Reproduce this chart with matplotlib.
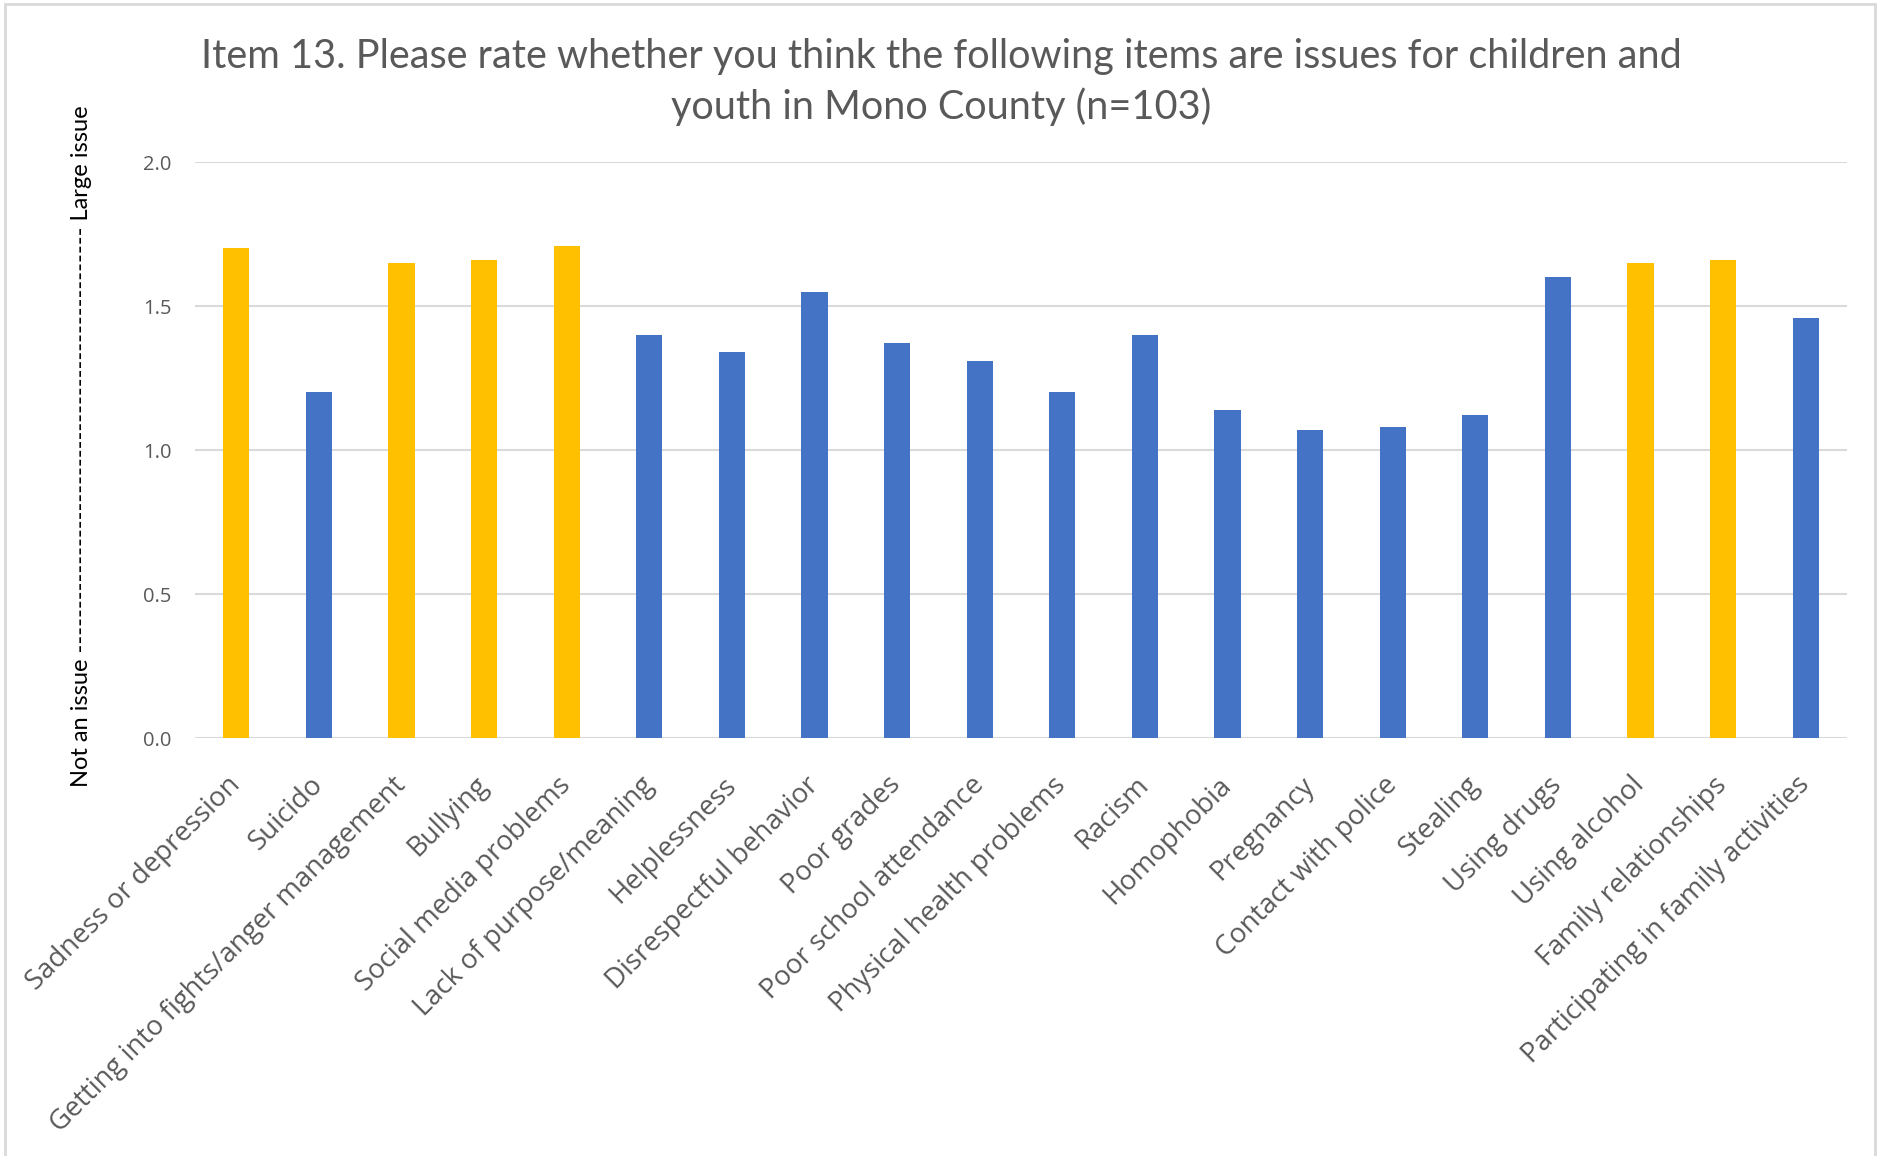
import matplotlib
matplotlib.use("Agg")
import matplotlib.pyplot as plt
from matplotlib.patches import Rectangle

plt.rcParams['font.family'] = ['Lato', 'DejaVu Sans']

categories = [
    "Sadness or depression", "Suicido", "Getting into fights/anger management",
    "Bullying", "Social media problems", "Lack of purpose/meaning",
    "Helplessness", "Disrespectful behavior", "Poor grades",
    "Poor school attendance", "Physical health problems", "Racism",
    "Homophobia", "Pregnancy", "Contact with police", "Stealing",
    "Using drugs", "Using alcohol", "Family relationships",
    "Participating in family activities",
]
values = [1.70, 1.20, 1.65, 1.66, 1.71, 1.40, 1.34, 1.55, 1.37, 1.31,
          1.20, 1.40, 1.14, 1.07, 1.08, 1.12, 1.60, 1.65, 1.66, 1.46]
highlight = [1, 0, 1, 1, 1, 0, 0, 0, 0, 0,
             0, 0, 0, 0, 0, 0, 0, 1, 1, 0]
yticks = [0.0, 0.5, 1.0, 1.5, 2.0]
title_text = ("Item 13. Please rate whether you think the following items are issues for children and\n"
              "youth in Mono County (n=103)")
ylabel_text = "Not an issue " + "-" * 48 + " Large issue"

YELLOW = "#FFC000"
BLUE = "#4472C4"
GRID = "#D9D9D9"
TEXT = "#595959"
LABEL_FONT = ['Open Sans', 'DejaVu Sans']

W, H = 1881, 1156
fig = plt.figure(figsize=(W / 100, H / 100), dpi=100)

# chart-area border
fig.patches.append(Rectangle((5 / W, -0.01), (1875 - 5) / W, 1 - 4 / H + 0.01,
                             transform=fig.transFigure, fill=False,
                             edgecolor=GRID, linewidth=2))

left, right, top, bottom = 195, 1847, 162, 738
ax = fig.add_axes([left / W, 1 - bottom / H, (right - left) / W, (bottom - top) / H])

x = list(range(len(categories)))
colors = [YELLOW if h else BLUE for h in highlight]
ax.bar(x, values, width=0.315, color=colors, zorder=3)

ax.set_xlim(-0.5, len(categories) - 0.5)
ax.set_ylim(0, 2.0)
ax.set_yticks(yticks)
ax.set_yticklabels([f"{v:.1f}" for v in yticks], family=LABEL_FONT)
for v in yticks:
    ax.axhline(v, color=GRID, linewidth=1.5, zorder=1)
for s in ax.spines.values():
    s.set_visible(False)
ax.tick_params(axis='y', length=0, pad=17, labelsize=14.5, labelcolor=TEXT)
ax.tick_params(axis='x', length=0, pad=31)
ax.set_xticks(x)
ax.set_xticklabels(categories, rotation=45, ha='right', va='center',
                   rotation_mode='anchor',
                   fontsize=19.8, color=TEXT, family=LABEL_FONT)

fig.text(941 / W, 1 - 82 / H, title_text, ha='center', va='center',
         fontsize=28.5, color=TEXT, linespacing=1.4)
fig.text(82 / W, 1 - 446 / H, ylabel_text, rotation=90, ha='center', va='center',
         fontsize=17, color='black')

fig.savefig("out.png", dpi=100)
